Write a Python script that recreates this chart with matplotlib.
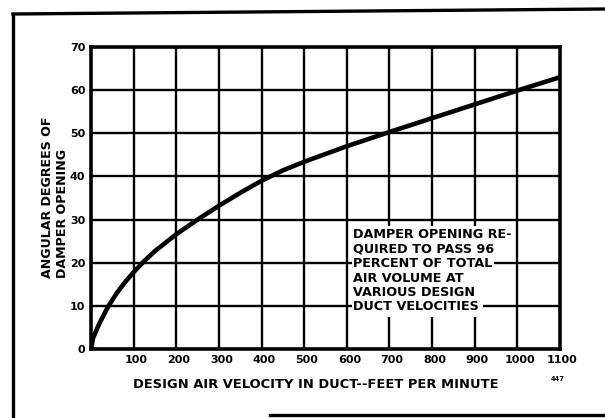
import matplotlib
matplotlib.use("Agg")
import matplotlib.pyplot as plt
from matplotlib.lines import Line2D
from matplotlib.patches import Rectangle
from matplotlib.transforms import ScaledTranslation

# curve (feet per minute -> degrees)
VELOCITY = [0, 5, 20, 40, 60, 80, 100, 125, 150, 200, 250, 300, 350, 400,
            450, 500, 600, 700, 800, 900, 1000, 1100]
DEGREES = [0, 2.6, 6.0, 9.8, 12.9, 15.5, 17.8, 20.4, 22.7, 26.6, 30.0, 33.2,
           36.2, 39.0, 41.4, 43.4, 47.0, 50.3, 53.5, 56.7, 59.9, 63.0]

X_TICKS = [100, 200, 300, 400, 500, 600, 700, 800, 900, 1000, 1100]
Y_TICKS = [0, 10, 20, 30, 40, 50, 60, 70]

NOTE_LINES = [
    "DAMPER OPENING RE-",
    "QUIRED TO PASS 96",
    "PERCENT OF TOTAL",
    "AIR VOLUME AT",
    "VARIOUS DESIGN",
    "DUCT VELOCITIES",
]

FONT = "DejaVu Sans"

fig = plt.figure(figsize=(6.05, 4.18), dpi=100)
fig.patch.set_facecolor("white")

ax = fig.add_axes([91 / 605, 1 - 349 / 418, 469 / 605, 302 / 418])
ax.set_xlim(0, 1100)
ax.set_ylim(0, 70)

# grid
for x in X_TICKS[:-1]:
    ax.axvline(x, color="black", lw=1.7, zorder=1)
for y in Y_TICKS[1:-1]:
    ax.axhline(y, color="black", lw=1.7, zorder=1)

ax.plot(VELOCITY, DEGREES, color="black", lw=3.3, solid_capstyle="butt",
        solid_joinstyle="round", zorder=3)

for s in ax.spines.values():
    s.set_linewidth(2.6)

ax.set_xticks(X_TICKS)
ax.set_yticks(Y_TICKS)
ax.tick_params(length=0, pad=4)
shift = ScaledTranslation(2.5 / 100, 0, fig.dpi_scale_trans)
for lab in ax.get_xticklabels():
    lab.set_transform(lab.get_transform() + shift)
for lab in ax.get_xticklabels() + ax.get_yticklabels():
    lab.set_fontfamily(FONT)
    lab.set_fontweight("bold")
    lab.set_fontsize(8)

# note box: white block behind the text, plus a mask per line
def px_x(p):
    return (p - 91) / 469


def px_y(p):
    return 1 - (p - 47) / 302


ax.add_patch(Rectangle((px_x(352), px_y(317)), px_x(483) - px_x(352),
                       px_y(226) - px_y(317), transform=ax.transAxes,
                       facecolor="white", edgecolor="none", zorder=3.5))
step = 14.4 / 302
for i, line in enumerate(NOTE_LINES):
    ax.text(px_x(353), px_y(235) - i * step, line, transform=ax.transAxes,
            ha="left", va="center", fontsize=9.2, fontweight="bold",
            family=FONT, zorder=4,
            bbox=dict(facecolor="white", edgecolor="none", pad=1.0))

fig.text(316 / 605, 1 - 385 / 418,
         "DESIGN AIR VELOCITY IN DUCT--FEET PER MINUTE",
         ha="center", va="center", fontsize=9.4, fontweight="bold", family=FONT)
fig.text(55 / 605, 1 - 197 / 418, "ANGULAR DEGREES OF\nDAMPER OPENING",
         rotation=90, ha="center", va="center", multialignment="left",
         fontsize=9.1, fontweight="bold", family=FONT, linespacing=1.1)
fig.text(558 / 605, 1 - 379 / 418, "447", ha="center", va="center",
         fontsize=4.8, fontweight="bold", family=FONT)

# outer frame (left, top, partial bottom)
frame_kw = dict(color="black", lw=2.4, transform=fig.transFigure)
fig.add_artist(Line2D([13 / 605, 13 / 605], [0, 1 - 14 / 418], **frame_kw))
fig.add_artist(Line2D([13 / 605, 1], [1 - 14 / 418, 1 - 9 / 418], **frame_kw))
fig.add_artist(Line2D([270 / 605, 1], [1 - 415 / 418, 1 - 415 / 418], **frame_kw))

fig.savefig("out.png", dpi=100)
